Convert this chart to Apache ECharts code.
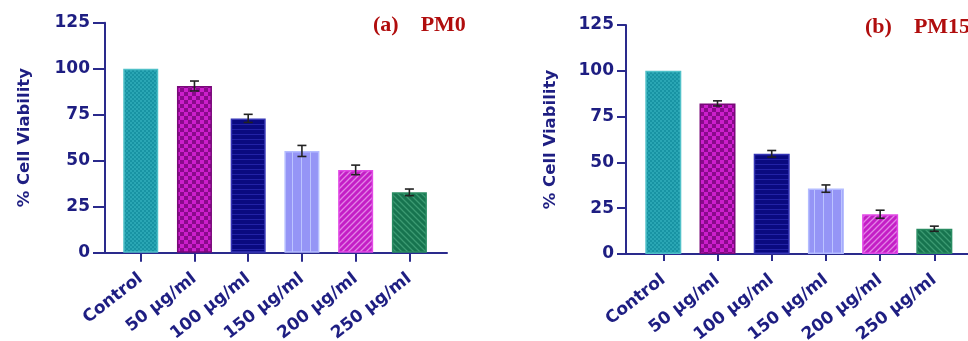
<!DOCTYPE html>
<html>
<head>
<meta charset="utf-8">
<script src="https://cdn.jsdelivr.net/npm/echarts@6/dist/echarts.min.js"></script>
<style>
html,body{margin:0;padding:0;background:#fff;}
#chart{width:968px;height:341px;}
</style>
</head>
<body>
<div id="chart"></div>
<script>
// ---- data ----
var categories = ['Control', '50 \u00b5g/ml', '100 \u00b5g/ml', '150 \u00b5g/ml', '200 \u00b5g/ml', '250 \u00b5g/ml'];
var yTicks = [0, 25, 50, 75, 100, 125];
var pm0Mean = [100, 90.6, 73.0, 55.3, 45.0, 32.8];
var pm0Sd   = [0, 2.7, 2.2, 3.0, 2.6, 1.8];
var pm15Mean = [100, 82.2, 54.7, 35.7, 21.7, 13.8];
var pm15Sd   = [0, 1.4, 1.8, 2.0, 2.2, 1.4];
var titles = ['(a)    PM0', '(b)    PM15'];
var yName = '% Cell Viability';

// ---- pattern fills ----
function tile(w, h, draw) {
  var c = document.createElement('canvas');
  c.width = w; c.height = h;
  var g = c.getContext('2d');
  draw(g, w, h);
  return { image: c, repeat: 'repeat' };
}
var fills = [
  tile(4, 4, function (g) { g.fillStyle = '#1893a3'; g.fillRect(0,0,4,4); g.fillStyle = '#2aa6b4'; g.fillRect(0,0,2,2); g.fillRect(2,2,2,2); }),
  tile(8, 8, function (g) { g.fillStyle = '#8a0a8c'; g.fillRect(0,0,8,8); g.fillStyle = '#cc1fcc'; g.fillRect(0,0,4,4); g.fillRect(4,4,4,4); }),
  tile(5, 5, function (g) { g.fillStyle = '#0a0a80'; g.fillRect(0,0,5,5); g.fillStyle = '#2222a6'; g.fillRect(0,4,5,1); }),
  tile(9, 9, function (g) { g.fillStyle = '#9595f6'; g.fillRect(0,0,9,9); g.fillStyle = '#bcc4ff'; g.fillRect(4,0,1,9); }),
  tile(6, 6, function (g) { g.fillStyle = '#c41ec6'; g.fillRect(0,0,6,6); g.strokeStyle = '#e283e6'; g.lineWidth = 1.3;
    g.beginPath(); g.moveTo(0,6); g.lineTo(6,0); g.moveTo(-1,1); g.lineTo(1,-1); g.moveTo(5,7); g.lineTo(7,5); g.stroke(); }),
  tile(6, 6, function (g) { g.fillStyle = '#17744f'; g.fillRect(0,0,6,6); g.strokeStyle = '#3c9a72'; g.lineWidth = 1.3;
    g.beginPath(); g.moveTo(0,0); g.lineTo(6,6); g.moveTo(-1,5); g.lineTo(1,7); g.moveTo(5,-1); g.lineTo(7,1); g.stroke(); })
];
var borders = ['#4fc0c8', '#7a087a', '#3535b5', '#b4bcff', '#e24ae6', '#2a8c62'];

var navy = '#1e1e82';
var axisColor = '#2a2a8c';

function barData(means) {
  return means.map(function (v, i) {
    return { value: [i, v], itemStyle: { color: fills[i], borderColor: borders[i], borderWidth: 1.5 } };
  });
}
function errData(means, sds) {
  var out = [];
  means.forEach(function (v, i) { if (sds[i] > 0) out.push([i, v, sds[i]]); });
  return out;
}
function errRender(params, api) {
  var x = api.value(0), m = api.value(1), s = api.value(2);
  var hi = api.coord([x, m + s]);
  var lo = api.coord([x, m - s]);
  var hw = 4.5;
  var st = { stroke: '#222', lineWidth: 1.6 };
  return {
    type: 'group',
    children: [
      { type: 'line', shape: { x1: hi[0], y1: hi[1], x2: lo[0], y2: lo[1] }, style: st },
      { type: 'line', shape: { x1: hi[0] - hw, y1: hi[1], x2: hi[0] + hw, y2: hi[1] }, style: st },
      { type: 'line', shape: { x1: lo[0] - hw, y1: lo[1], x2: lo[0] + hw, y2: lo[1] }, style: st }
    ]
  };
}
var tickIdx = categories.map(function (c, i) { return i; });

function xAxis(idx, min, max, tickLen, margin) {
  return {
    type: 'value', gridIndex: idx, min: min, max: max,
    splitLine: { show: false },
    axisLine: { show: true, onZero: false, lineStyle: { color: axisColor, width: 2 } },
    axisTick: { show: true, customValues: tickIdx, length: tickLen, lineStyle: { color: axisColor, width: 2 } },
    axisLabel: {
      customValues: tickIdx, rotate: 38, margin: margin,
      color: navy, fontFamily: 'DejaVu Sans', fontWeight: 'bold', fontSize: 17,
      formatter: function (v) { return categories[Math.round(v)]; }
    }
  };
}
function yAxis(idx, tickLen, margin, gap) {
  return {
    type: 'value', gridIndex: idx, min: yTicks[0], max: yTicks[yTicks.length - 1], interval: 25,
    splitLine: { show: false },
    axisLine: { show: true, onZero: false, lineStyle: { color: axisColor, width: 2 } },
    axisTick: { show: true, length: tickLen, lineStyle: { color: axisColor, width: 2 } },
    axisLabel: { margin: margin, color: navy, fontFamily: 'DejaVu Sans', fontWeight: 'bold', fontSize: 17 },
    name: yName, nameLocation: 'middle', nameGap: gap,
    nameTextStyle: { color: navy, fontFamily: 'DejaVu Sans', fontWeight: 'bold', fontSize: 16.5 }
  };
}

var option = {
  animation: false,
  backgroundColor: '#ffffff',
  title: [
    { text: titles[0], left: 368, top: 9, textStyle: { fontFamily: 'Liberation Serif', fontWeight: 'bold', fontSize: 22, color: '#b00d0d' } },
    { text: titles[1], left: 860, top: 11, textStyle: { fontFamily: 'Liberation Serif', fontWeight: 'bold', fontSize: 22, color: '#b00d0d' } }
  ],
  grid: [
    { left: 105, top: 22.7, width: 342, height: 230, outerBoundsMode: 'none', containLabel: false },
    { left: 626, top: 25, width: 349, height: 229, outerBoundsMode: 'none', containLabel: false }
  ],
  xAxis: [xAxis(0, -0.665, 5.70, 9, 24), xAxis(1, -0.688, 5.75, 7, 24)],
  yAxis: [yAxis(0, 12, 15, 72), yAxis(1, 9, 12, 67)],
  series: [
    { type: 'bar', xAxisIndex: 0, yAxisIndex: 0, barWidth: 35, data: barData(pm0Mean) },
    { type: 'custom', xAxisIndex: 0, yAxisIndex: 0, renderItem: errRender, data: errData(pm0Mean, pm0Sd), z: 5 },
    { type: 'bar', xAxisIndex: 1, yAxisIndex: 1, barWidth: 36, data: barData(pm15Mean) },
    { type: 'custom', xAxisIndex: 1, yAxisIndex: 1, renderItem: errRender, data: errData(pm15Mean, pm15Sd), z: 5 }
  ]
};
var chart = echarts.init(document.getElementById('chart'), null, { renderer: 'canvas' });
chart.setOption(option);
</script>
</body>
</html>
